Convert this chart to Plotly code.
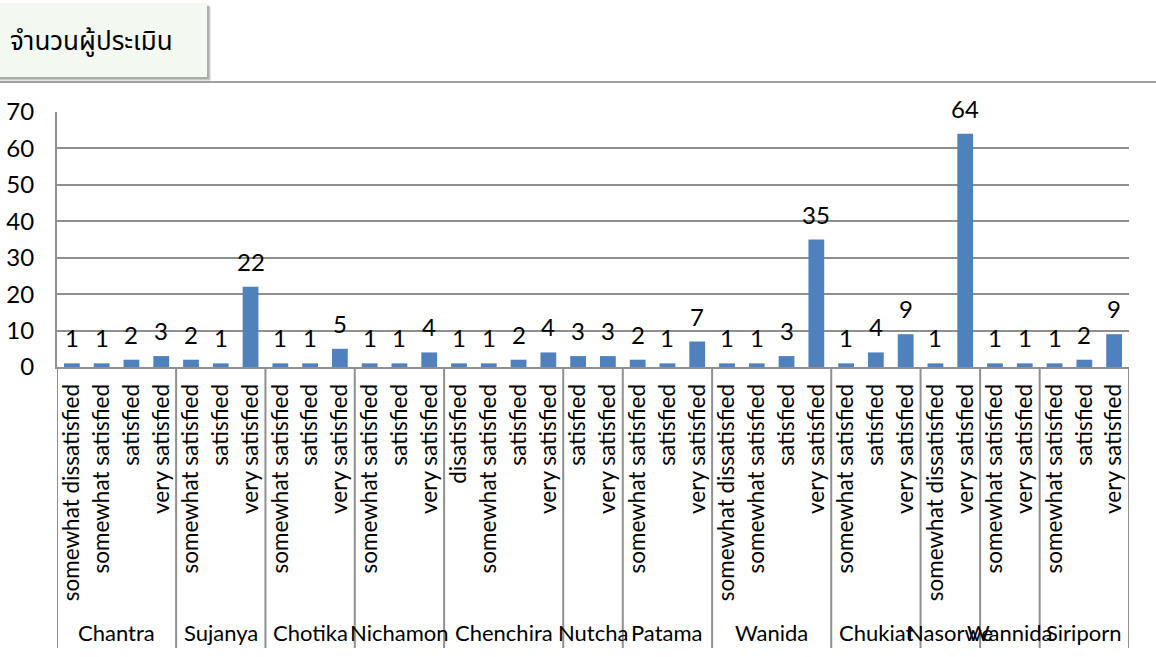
import plotly.graph_objects as go

# ---- data ----
groups = ["Chantra", "Sujanya", "Chotika", "Nichamon", "Chenchira", "Nutcha",
          "Patama", "Wanida", "Chukiat", "Nasorwe", "Wannida", "Siriporn"]
group_categories = [
    ["somewhat dissatisfied", "somewhat satisfied", "satisfied", "very satisfied"],
    ["somewhat satisfied", "satisfied", "very satisfied"],
    ["somewhat satisfied", "satisfied", "very satisfied"],
    ["somewhat satisfied", "satisfied", "very satisfied"],
    ["disatisfied", "somewhat satisfied", "satisfied", "very satisfied"],
    ["satisfied", "very satisfied"],
    ["somewhat satisfied", "satisfied", "very satisfied"],
    ["somewhat dissatisfied", "somewhat satisfied", "satisfied", "very satisfied"],
    ["somewhat satisfied", "satisfied", "very satisfied"],
    ["somewhat dissatisfied", "very satisfied"],
    ["somewhat satisfied", "very satisfied"],
    ["somewhat satisfied", "satisfied", "very satisfied"],
]
group_values = [
    [1, 1, 2, 3],
    [2, 1, 22],
    [1, 1, 5],
    [1, 1, 4],
    [1, 1, 2, 4],
    [3, 3],
    [2, 1, 7],
    [1, 1, 3, 35],
    [1, 4, 9],
    [1, 64],
    [1, 1],
    [1, 2, 9],
]
title_text = "จำนวนผู้ประเมิน"
y_ticks = [0, 10, 20, 30, 40, 50, 60, 70]

# ---- flatten ----
xs, labels, values = [], [], []
group_spans = []
idx = 0
for g, cats, vals in zip(groups, group_categories, group_values):
    start = idx
    for c, v in zip(cats, vals):
        xs.append(idx)
        labels.append(c)
        values.append(v)
        idx += 1
    group_spans.append((g, start, idx - 1))

FONT = "Lato, Carlito, 'Open Sans', sans-serif"
THAI_FONT = "'Noto Sans Thai', 'Noto Sans', 'DejaVu Sans', sans-serif"
GRID = "#8f8f8f"
BAR = "#4f81bd"

W, H = 1156, 657
L, R, T, B = 57, 1129, 112, 367


def px(x):
    return (x - L) / (R - L)


def py(y):
    return (B - y) / (B - T)


fig = go.Figure()
fig.add_trace(go.Bar(
    x=xs, y=values, marker=dict(color=BAR, line=dict(width=0)),
    width=0.53, hoverinfo="x+y", showlegend=False,
))

annotations = []
for x, v in zip(xs, values):
    annotations.append(dict(
        x=x, y=v, xref="x", yref="y", text=str(v), showarrow=False,
        yanchor="bottom", yshift=9, font=dict(family=FONT, size=24, color="#000"),
    ))

shapes = []
# separators
bounds = [s for (_, s, _) in group_spans] + [group_spans[-1][2] + 1]
for b in bounds:
    shapes.append(dict(type="line", xref="x", yref="paper", x0=b - 0.5, x1=b - 0.5,
                       y0=0, y1=py(648), line=dict(color=GRID, width=2), layer="above"))
for g, s, e in group_spans:
    annotations.append(dict(
        x=(s + e) / 2, y=py(632), xref="x", yref="paper", text=g, showarrow=False,
        yanchor="middle", xanchor="center", font=dict(family=FONT, size=22, color="#000"),
    ))

# chart header line
shapes.append(dict(type="line", xref="paper", yref="paper", x0=px(0), x1=px(W),
                   y0=py(82), y1=py(82), line=dict(color="#a0a0a0", width=2)))
# title box shadow + box
for off, col in [(4, "rgba(0,0,0,0.10)"), (3, "rgba(0,0,0,0.12)"), (2, "rgba(0,0,0,0.15)")]:
    shapes.append(dict(type="rect", xref="paper", yref="paper", x0=px(0), x1=px(207 + off),
                       y0=py(77 + off), y1=py(3 + off), fillcolor=col, line=dict(width=0)))
shapes.append(dict(type="rect", xref="paper", yref="paper", x0=px(0), x1=px(207),
                   y0=py(77), y1=py(3), fillcolor="#f3f8f0", line=dict(width=0)))
annotations.append(dict(
    x=px(8), y=py(42), xref="paper", yref="paper", text=title_text, showarrow=False,
    xanchor="left", yanchor="middle", font=dict(family=THAI_FONT, size=26, color="#000"),
))

fig.update_layout(
    width=W, height=H, margin=dict(l=L, r=W - R, t=T, b=H - B, autoexpand=False),
    paper_bgcolor="white", plot_bgcolor="white",
    shapes=shapes, annotations=annotations, showlegend=False,
    xaxis=dict(
        range=[-0.5, len(xs) - 0.5], tickmode="array", tickvals=xs, ticktext=labels,
        tickangle=-90, tickfont=dict(family=FONT, size=22.5, color="#000"),
        showgrid=False, zeroline=False, showline=True, linecolor=GRID, linewidth=2,
        ticks="", ticklabelstandoff=6, fixedrange=True, automargin=False,
    ),
    yaxis=dict(
        range=[0, 70], tickmode="array", tickvals=y_ticks,
        tickfont=dict(family=FONT, size=24, color="#000"),
        showgrid=True, gridcolor=GRID, gridwidth=2, zeroline=False,
        showline=True, linecolor=GRID, linewidth=2, ticks="", ticklabelstandoff=16,
        fixedrange=True, automargin=False,
    ),
)

fig.write_html("out.html")
